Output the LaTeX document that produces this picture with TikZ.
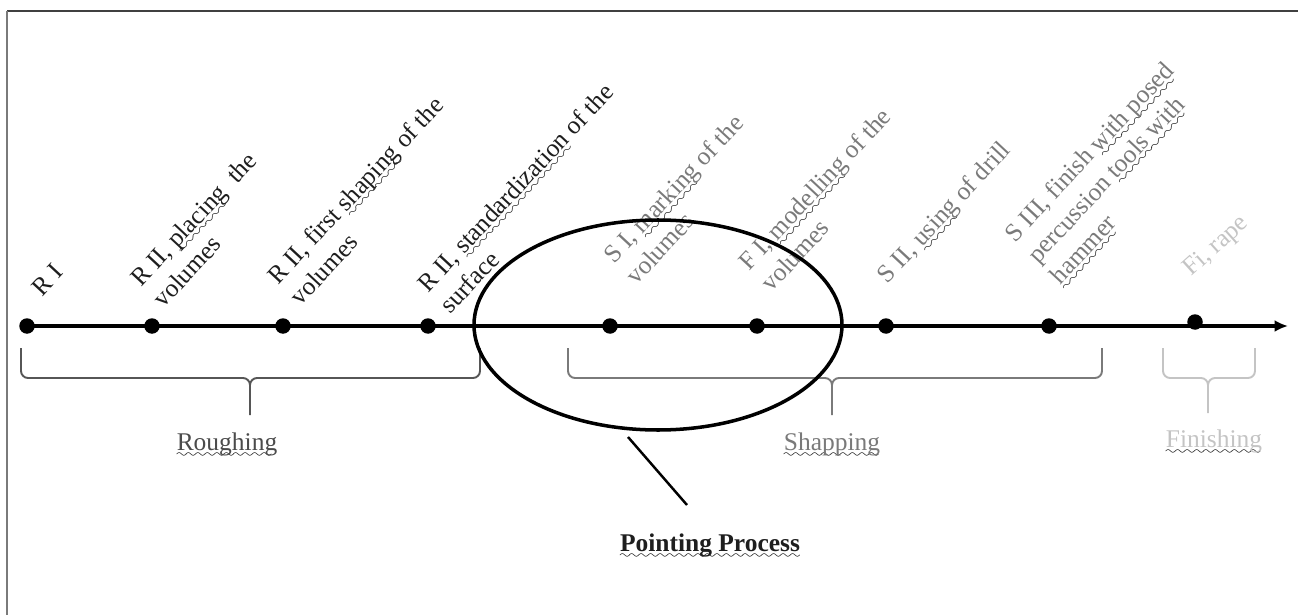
\documentclass[tikz,border=0pt]{standalone}
\usepackage{fontspec}
\setmainfont{Liberation Serif}
\usetikzlibrary{arrows.meta}

\definecolor{ink}{HTML}{1E1E1E}
\definecolor{mid}{HTML}{7A7A7A}
\definecolor{pale}{HTML}{C4C4C4}

% wavy underline that stays dark whatever the text colour
\font\wavefont=lasy7
\newcommand{\wavy}[1]{\setbox0=\hbox{#1}\rlap{\raisebox{-4pt}{\hbox to \wd0{\color{black}\leaders\hbox{\wavefont\char58}\hfill}}}#1}

\begin{document}
\begin{tikzpicture}[x = 0.02cm, y = -0.02cm, line width = 2.4pt,
                        dot/.style = {circle, fill = black, inner sep = 0pt, minimum size = 0.31cm},
                        stage/.style = {rotate = 47, anchor = south west, align = left, inner sep = 0pt,
                                        font = {\fontsize{14.5}{17.6}\selectfont}},
                        phase/.style = {anchor = base, inner sep = 0pt, font = {\fontsize{14.5}{17.6}\selectfont}},
                        bracket/.style = {line width = 1.1pt, rounded corners = 4pt}]
      \useasboundingbox (0, 0) rectangle (1298, 615);
      \draw [line width = 1.2pt, draw = ink!85] (1298, 11) -- (7, 11);
      \draw [line width = 1.2pt, draw = mid] (7, 11) -- (7, 615);

      \node [dot] (d1) at (27, 326){};
      \node [dot] (d2) at (152, 326){};
      \node [dot] (d3) at (283, 326){};
      \node [dot] (d4) at (428, 326){};
      \node [dot] (d5) at (610, 326){};
      \node [dot] (d6) at (757, 326){};
      \node [dot] (d7) at (886, 326){};
      \node [dot] (d8) at (1049, 326){};
      \node [dot] (d9) at (1195, 322){};
      \coordinate (tip) at (1288, 326);
      \draw [-{Latex[length = 0.27cm, width = 0.24cm]}] (d1.center) -- (tip);

      \node [stage, text = ink] (s1) at (43, 300){R I};
      \node [stage, text = ink] (s2) at (164, 312){R II, \wavy{placing}\ \ the\\volumes};
      \node [stage, text = ink] (s3) at (301, 310){R II, first \wavy{shaping} of the\\volumes};
      \node [stage, text = ink] (s4) at (451, 318){R II, \wavy{standardization} of the\\surface};
      \node [stage, text = mid] (s5) at (637, 289){S I, \wavy{marking} of the\\volumes};
      \node [stage, text = mid] (s6) at (772, 296){F I, \wavy{modelling} of the\\volumes};
      \node [stage, text = mid] (s7) at (893, 292){S II, \wavy{using} of drill};
      \node [stage, text = mid] (s8) at (1066, 293){S III, finish \wavy{with posed}\\percussion \wavy{tools with}\\\wavy{hammer}};
      \node [stage, text = pale, rotate = -5] (s9) at (1195, 284){Fi, rape};

      \draw [bracket, draw = ink!75] (21, 348) |- (250, 378) -- (250, 415) (480, 348) |- (250, 378) -- (250, 415);
      \draw [bracket, draw = mid] (568, 348) |- (832, 378) -- (832, 415) (1102, 348) |- (832, 378) -- (832, 415);
      \draw [bracket, draw = pale] (1163, 348) |- (1208, 378) -- (1208, 413) (1255, 348) |- (1208, 378) -- (1208, 413);

      \node [phase, text = ink!80] (rough) at (227, 450){\wavy{Roughing}};
      \node [phase, text = mid] (shap) at (832, 450){\wavy{Shapping}};
      \node [phase, text = pale] (fin) at (1214, 447){\wavy{Finishing}};
      \node [phase, text = ink, font = {\fontsize{14.5}{17.6}\selectfont\bfseries}] (point) at (710, 551){\wavy{Pointing Process}};

      \draw [line width = 2pt] (658, 325) ellipse [x radius = 184, y radius = 105];
      \coordinate (pinA) at (628, 437);
      \coordinate (pinB) at (687, 505);
      \draw [line width = 1.4pt] (pinA) -- (pinB);
    \end{tikzpicture}
\end{document}
